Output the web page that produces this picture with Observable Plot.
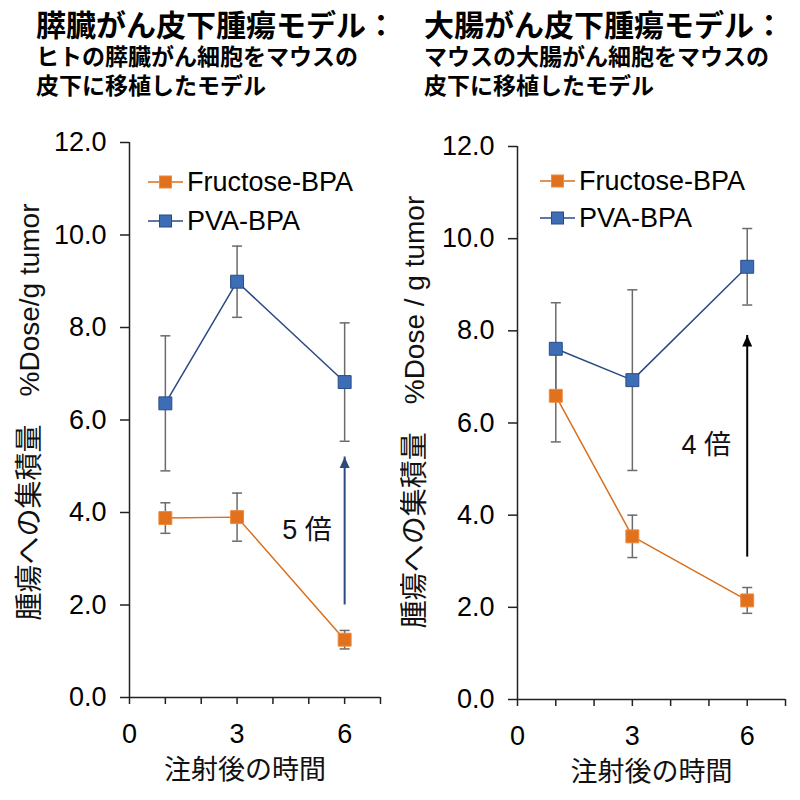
<!DOCTYPE html>
<html><head><meta charset="utf-8">
<script src="https://cdn.jsdelivr.net/npm/d3@7"></script>
<script src="https://cdn.jsdelivr.net/npm/@observablehq/plot@0.6"></script>
<style>
body{margin:0;background:#fff;}
#wrap{position:relative;width:800px;height:800px;overflow:hidden;background:#fff;font-family:"Liberation Sans","Noto Sans CJK JP",sans-serif;}
#wrap > svg{position:absolute;top:0;}
.t{position:absolute;top:7px;font-family:"Noto Sans CJK JP",sans-serif;font-weight:700;color:#000;white-space:nowrap;}
.t div{display:block;}
.leg{position:absolute;display:flex;align-items:center;font-size:27px;line-height:1;color:#000;font-family:"Liberation Sans",sans-serif;}
.leg svg{margin-right:4px;}
</style></head><body><div id="wrap"></div>
<script>
// ---------- data ----------
const times = [1, 3, 6];
const seriesNames = ["Fructose-BPA", "PVA-BPA"];
// Pancreatic cancer model (left)
const pancFructose = [3.88, 3.90, 1.25];
const pancFructoseErr = [0.33, 0.52, 0.20];
const pancPVA = [6.36, 8.99, 6.82];
const pancPVAErr = [1.46, 0.77, 1.28];
// Colon cancer model (right)
const colonFructose = [6.59, 3.54, 2.15];
const colonFructoseErr = [1.00, 0.46, 0.28];
const colonPVA = [7.61, 6.93, 9.39];
const colonPVAErr = [1.00, 1.96, 0.83];
// ticks
const yTicks = [0, 2, 4, 6, 8, 10, 12];
const xTicks = [0, 1, 2, 3, 4, 5, 6, 7];
const xTickLabels = [0, 3, 6];
// annotations
const pancArrow = {x: 6, from: 2.0, to: 5.2, lx: 4.95, ly: 3.62, label: "5 倍"};
const colonArrow = {x: 6, from: 3.09, to: 7.9, lx: 4.93, ly: 5.51, label: "4 倍"};
const xTitle = "注射後の時間";
const pancYTitle = "腫瘍への集積量　%Dose/g tumor";
const colonYTitle = "腫瘍への集積量　%Dose / g tumor";
const pancTitle = ["膵臓がん皮下腫瘍モデル：", "ヒトの膵臓がん細胞をマウスの", "皮下に移植したモデル"];
const colonTitle = ["大腸がん皮下腫瘍モデル：", "マウスの大腸がん細胞をマウスの", "皮下に移植したモデル"];

// ---------- styles ----------
const orangeFill = "#E2711D", orangeStroke = "#EC8A3E", orangeLine = "#D8701F";
const blueFill = "#3D6DB5", blueStroke = "#2A4C86", blueLine = "#2B4A84";
const errColor = "#6b6b6b";

const capSymbol = {draw(ctx, size){const r = Math.sqrt(size / Math.PI); ctx.moveTo(-r, 0); ctx.lineTo(r, 0);}};
const headSymbol = {draw(ctx){ctx.moveTo(0, 0); ctx.lineTo(5, 11); ctx.lineTo(-5, 11); ctx.closePath();}};

function panel(o) {
  const mk = (vals, errs, s) => times.map((t, i) => ({t, y: vals[i], e: errs[i], s}));
  const fr = mk(o.fr, o.frErr, seriesNames[0]);
  const pv = mk(o.pv, o.pvErr, seriesNames[1]);
  const all = fr.concat(pv);
  return Plot.plot({
    width: 400, height: 800,
    marginLeft: o.ml, marginRight: o.mr, marginTop: o.mt, marginBottom: o.mb,
    style: {background: "transparent", fontFamily: "'Liberation Sans','Noto Sans CJK JP',sans-serif", color: "#000"},
    x: {domain: [0, 7]},
    y: {domain: [0, 12]},
    marks: [
      Plot.axisY({ticks: yTicks, tickFormat: d3.format(".1f"), tickSize: 9, tickPadding: 14, fontSize: 27, label: null, stroke: "#222", strokeWidth: 1.5}),
      Plot.axisX({ticks: xTicks, tickFormat: d => xTickLabels.includes(d) ? String(d) : "", tickSize: 7, tickPadding: 19, fontSize: 27, label: null, stroke: "#222", strokeWidth: 1.5}),
      Plot.ruleX([0], {y1: 0, y2: 12, stroke: "#222", strokeWidth: 1.5}),
      Plot.ruleY([0], {x1: 0, x2: 7, stroke: "#222", strokeWidth: 1.5}),
      Plot.ruleX(all, {x: "t", y1: d => d.y - d.e, y2: d => d.y + d.e, stroke: errColor, strokeWidth: 1.5}),
      Plot.dot(all, {x: "t", y: d => d.y + d.e, symbol: capSymbol, r: 5, stroke: errColor, strokeWidth: 1.5}),
      Plot.dot(all, {x: "t", y: d => d.y - d.e, symbol: capSymbol, r: 5, stroke: errColor, strokeWidth: 1.5}),
      Plot.ruleX([o.arrow], {x: "x", y1: "from", y2: "to", stroke: o.arrowColor, strokeWidth: 2}),
      Plot.dot([o.arrow], {x: "x", y: "to", symbol: headSymbol, r: 5, fill: o.arrowColor, stroke: "none"}),
      Plot.text([o.arrow], {x: "lx", y: "ly", text: "label", fontSize: 27, fill: "#111"}),
      Plot.line(fr, {x: "t", y: "y", stroke: orangeLine, strokeWidth: 1.5}),
      Plot.line(pv, {x: "t", y: "y", stroke: blueLine, strokeWidth: 1.5}),
      Plot.dot(fr, {x: "t", y: "y", symbol: "square", r: 7.3, fill: orangeFill, stroke: orangeStroke, strokeWidth: 1}),
      Plot.dot(pv, {x: "t", y: "y", symbol: "square", r: 7.3, fill: blueFill, stroke: blueStroke, strokeWidth: 1}),
      Plot.text([o.yTitle], {frameAnchor: "left", textAnchor: "middle", lineAnchor: "middle", rotate: -90, dx: o.ydx, dy: o.ydy, fontSize: 28, fill: "#111"}),
      Plot.text([xTitle], {frameAnchor: "bottom", textAnchor: "middle", lineAnchor: "middle", dx: o.xdx, dy: 73, fontSize: 27, fill: "#111"})
    ]
  });
}

const wrap = document.getElementById("wrap");
const left = panel({fr: pancFructose, frErr: pancFructoseErr, pv: pancPVA, pvErr: pancPVAErr,
  ml: 129, mr: 20, mt: 142, mb: 103, arrow: pancArrow, arrowColor: "#2B4A7E",
  yTitle: pancYTitle, ydx: -99, ydy: -8, xdx: -10});
left.style.left = "0px";
wrap.appendChild(left);
const right = panel({fr: colonFructose, frErr: colonFructoseErr, pv: colonPVA, pvErr: colonPVAErr,
  ml: 117, mr: 15, mt: 146, mb: 101, arrow: colonArrow, arrowColor: "#000",
  yTitle: colonYTitle, ydx: -102, ydy: -11, xdx: 0});
right.style.left = "400px";
wrap.appendChild(right);

// titles: one text block per panel, lines as blocks
function title(lines, x) {
  const d = document.createElement("div");
  d.className = "t";
  d.style.left = x + "px";
  d.innerHTML = `<div style="font-size:30px;line-height:33px;height:33px">${lines[0]}</div>` +
    `<div style="font-size:23px;line-height:30px;height:30px">${lines[1]}</div>` +
    `<div style="font-size:23px;line-height:29px;height:29px">${lines[2]}</div>`;
  wrap.appendChild(d);
}
title(pancTitle, 36);
title(colonTitle, 424);

// legends
function legend(x, ys) {
  const fills = [orangeFill, blueFill], strokes = [orangeStroke, blueStroke], lines = [orangeLine, blueLine];
  seriesNames.forEach((name, i) => {
    const d = document.createElement("div");
    d.className = "leg";
    d.style.left = x + "px";
    d.style.top = (ys[i] - 15) + "px";
    d.style.height = "30px";
    d.innerHTML = `<svg width="35" height="30"><line x1="0" x2="35" y1="15" y2="15" stroke="${lines[i]}" stroke-width="1.5"/><rect x="11.5" y="9" width="12" height="12" fill="${fills[i]}" stroke="${strokes[i]}" stroke-width="1"/></svg><span>${name}</span>`;
    wrap.appendChild(d);
  });
}
legend(148, [182, 221]);
legend(540, [181, 218]);
</script></body></html>
